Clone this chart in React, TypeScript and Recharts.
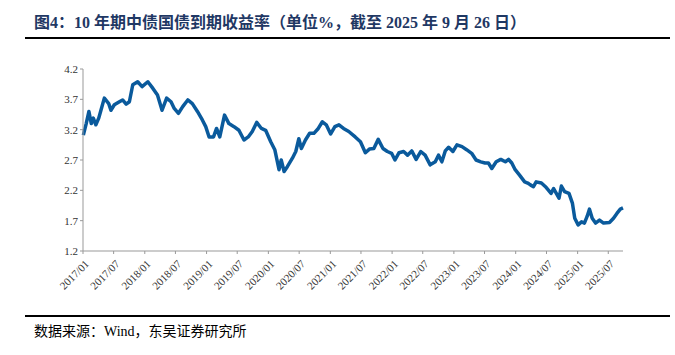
import { CartesianGrid, Line, LineChart, XAxis, YAxis } from "recharts";

// 10年期中债国债到期收益率 (%)
const dates = [
  "2017-01-03", "2017-01-20", "2017-02-05", "2017-02-19", "2017-03-03", "2017-03-18",
  "2017-04-04", "2017-04-17", "2017-05-07", "2017-06-02", "2017-06-15", "2017-07-05",
  "2017-08-04", "2017-08-23", "2017-09-13", "2017-10-02", "2017-10-22", "2017-11-20",
  "2017-12-16", "2018-01-19", "2018-02-18", "2018-03-17", "2018-04-13", "2018-05-10",
  "2018-06-05", "2018-06-24", "2018-07-19", "2018-08-13", "2018-09-12", "2018-10-09",
  "2018-11-08", "2018-12-07", "2018-12-27", "2019-01-16", "2019-02-11", "2019-03-01",
  "2019-03-20", "2019-04-17", "2019-05-13", "2019-06-12", "2019-07-11", "2019-08-10",
  "2019-09-04", "2019-09-28", "2019-10-24", "2019-11-21", "2019-12-16", "2020-01-15",
  "2020-02-08", "2020-03-04", "2020-03-17", "2020-04-03", "2020-04-22", "2020-05-22",
  "2020-06-11", "2020-06-29", "2020-07-14", "2020-08-07", "2020-09-01", "2020-09-26",
  "2020-10-22", "2020-11-15", "2020-12-08", "2021-01-03", "2021-01-28", "2021-02-21",
  "2021-03-20", "2021-04-20", "2021-05-28", "2021-06-28", "2021-07-27", "2021-08-20",
  "2021-09-15", "2021-10-11", "2021-11-08", "2021-12-04", "2021-12-29", "2022-01-18",
  "2022-02-11", "2022-03-10", "2022-04-02", "2022-04-27", "2022-05-23", "2022-06-19",
  "2022-07-15", "2022-08-14", "2022-09-13", "2022-10-02", "2022-10-22", "2022-11-11",
  "2022-12-01", "2022-12-26", "2023-01-19", "2023-02-18", "2023-03-17", "2023-04-16",
  "2023-05-12", "2023-06-09", "2023-07-04", "2023-07-24", "2023-08-13", "2023-09-08",
  "2023-10-05", "2023-11-01", "2023-11-20", "2023-12-09", "2023-12-29", "2024-01-24",
  "2024-02-23", "2024-03-12", "2024-03-28", "2024-04-15", "2024-05-01", "2024-06-01",
  "2024-06-25", "2024-07-28", "2024-08-12", "2024-08-28", "2024-09-13", "2024-09-27",
  "2024-10-16", "2024-11-11", "2024-12-01", "2024-12-15", "2025-01-04", "2025-01-24",
  "2025-02-10", "2025-02-26", "2025-03-12", "2025-03-28", "2025-04-17", "2025-05-10",
  "2025-06-03", "2025-07-08", "2025-08-01", "2025-08-21", "2025-09-10", "2025-09-26",
];

const yields = [
  3.11, 3.3, 3.5, 3.3, 3.39, 3.28,
  3.39, 3.52, 3.72, 3.63, 3.52, 3.61,
  3.66, 3.69, 3.62, 3.66, 3.94, 3.99,
  3.91, 3.99, 3.88, 3.77, 3.52, 3.72,
  3.66, 3.55, 3.47, 3.58, 3.69, 3.63,
  3.5, 3.36, 3.25, 3.08, 3.08, 3.22,
  3.08, 3.44, 3.3, 3.25, 3.19, 3.03,
  3.08, 3.17, 3.32, 3.22, 3.19, 3.0,
  2.87, 2.54, 2.7, 2.51, 2.59, 2.73,
  2.84, 3.05, 2.89, 3.03, 3.14, 3.14,
  3.22, 3.33, 3.28, 3.13, 3.25, 3.28,
  3.22, 3.17, 3.08, 3.0, 2.82, 2.88,
  2.89, 3.04, 2.89, 2.84, 2.81, 2.7,
  2.82, 2.84, 2.78, 2.85, 2.71, 2.84,
  2.78, 2.62, 2.67, 2.78, 2.67, 2.85,
  2.91, 2.84, 2.95, 2.92, 2.87, 2.81,
  2.7, 2.67, 2.65, 2.65, 2.56, 2.67,
  2.71, 2.67, 2.71, 2.65, 2.54, 2.45,
  2.34, 2.32, 2.29, 2.26, 2.34, 2.32,
  2.26, 2.15, 2.23, 2.15, 2.07, 2.27,
  2.18, 2.15, 1.99, 1.74, 1.63, 1.68,
  1.66, 1.77, 1.89, 1.74, 1.66, 1.71,
  1.66, 1.67, 1.74, 1.82, 1.89, 1.91,
];

const tickDates = [
  "2017-01-01", "2017-07-01", "2018-01-01", "2018-07-01", "2019-01-01", "2019-07-01",
  "2020-01-01", "2020-07-01", "2021-01-01", "2021-07-01", "2022-01-01", "2022-07-01",
  "2023-01-01", "2023-07-01", "2024-01-01", "2024-07-01", "2025-01-01", "2025-07-01",
];
const tickLabels = [
  "2017/01", "2017/07", "2018/01", "2018/07", "2019/01", "2019/07",
  "2020/01", "2020/07", "2021/01", "2021/07", "2022/01", "2022/07",
  "2023/01", "2023/07", "2024/01", "2024/07", "2025/01", "2025/07",
];
const yTicks = [1.2, 1.7, 2.2, 2.7, 3.2, 3.7, 4.2];

const data = dates.map((d, i) => ({ t: Date.parse(d), v: yields[i] }));
const xTicks = tickDates.map((d) => Date.parse(d));
const labelOf = new Map(xTicks.map((t, i) => [t, tickLabels[i]]));

const serif = '"Times New Roman", "Liberation Serif", "Noto Sans CJK SC", serif';

function DateTick({ x, y, payload }: any) {
  return (
    <g transform={`translate(${x + 4},${y + 6})`}>
      <text
        transform="rotate(-45)"
        textAnchor="end"
        dy="0.35em"
        fontSize={11}
        fontFamily={serif}
        fill="#333"
      >
        {labelOf.get(payload.value)}
      </text>
    </g>
  );
}

export default function App() {
  return (
    <div style={{ position: "relative", width: 675, height: 355, background: "#fff" }}>
      <style>{`body{margin:0}`}</style>
      <div
        style={{
          position: "absolute",
          left: 34,
          top: 9,
          fontFamily: serif,
          fontWeight: "bold",
          fontSize: 16,
          color: "#1f3864",
          whiteSpace: "nowrap",
        }}
      >
        图4：10 年期中债国债到期收益率（单位%，截至 2025 年 9 月 26 日）
      </div>
      <div style={{ position: "absolute", left: 25, top: 37, width: 645, height: 2, background: "#000" }} />
      <div style={{ position: "absolute", left: 0, top: 0 }}>
        <LineChart width={675} height={355} data={data} margin={{ top: 69, right: 52, bottom: 64, left: 33 }}>
          <CartesianGrid stroke="none" />
          <XAxis
            dataKey="t"
            type="number"
            domain={[Date.parse("2017-01-01"), Date.parse("2025-09-26")]}
            ticks={xTicks}
            tick={<DateTick />}
            tickSize={3}
            height={40}
            stroke="#999"
            interval={0}
          />
          <YAxis
            type="number"
            domain={[1.2, 4.2]}
            ticks={yTicks}
            tickFormatter={(v: number) => v.toFixed(1)}
            tick={{ fontSize: 11, fontFamily: serif, fill: "#333" }}
            tickSize={3}
            width={50}
            stroke="#999"
          />
          <Line
            type="linear"
            dataKey="v"
            stroke="#0a5a9c"
            strokeWidth={3.5}
            strokeLinejoin="round"
            dot={false}
            isAnimationActive={false}
          />
        </LineChart>
      </div>
      <div style={{ position: "absolute", left: 25, top: 315, width: 645, height: 2, background: "#000" }} />
      <div
        style={{
          position: "absolute",
          left: 34,
          top: 320,
          fontFamily: serif,
          fontSize: 14,
          color: "#000",
          whiteSpace: "nowrap",
        }}
      >
        数据来源：Wind，东吴证券研究所
      </div>
    </div>
  );
}
